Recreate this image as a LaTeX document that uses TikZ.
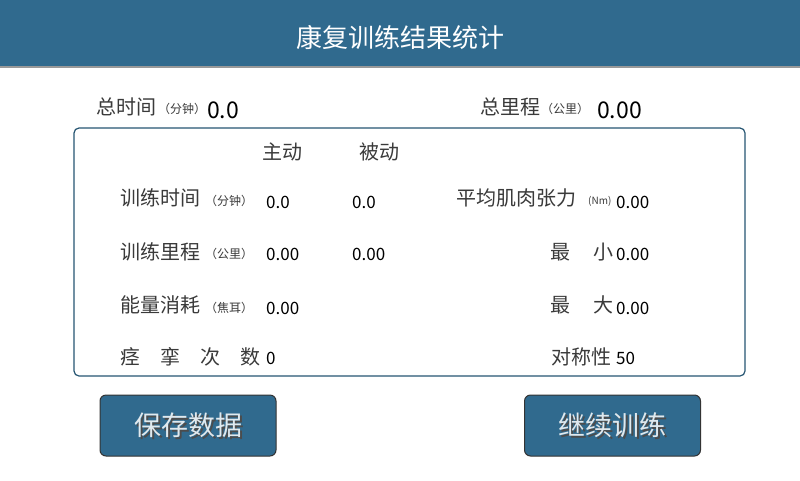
\documentclass[tikz,border=0pt]{standalone}
\usepackage{fontspec}
\setmainfont{Noto Sans CJK SC}
\definecolor{hdr}{HTML}{306A8E}
\definecolor{lbl}{HTML}{3A3A3A}
\begin{document}
\begin{tikzpicture}[x=1pt,y=-1pt,
 lb/.style={anchor=west,text=lbl,font=\fontsize{20}{20}\selectfont,inner sep=0},
 un/.style={anchor=west,text=lbl,font=\fontsize{12}{12}\selectfont,inner sep=0},
 nm/.style={anchor=west,text=black,font=\fontsize{17}{17}\selectfont,inner sep=0},
 btn/.style={draw=black!80,line width=1pt,fill=hdr,rounded corners=6pt,minimum width=176pt,minimum height=61pt},
 bt/.style={text=white!85!hdr,font=\fontsize{27}{27}\selectfont},
 bs/.style={text=black!70,font=\fontsize{27}{27}\selectfont}]
\useasboundingbox (0,0) rectangle (800,480);
\fill[white] (0,0) rectangle (800,480);
\fill[black!40] (0,66) rectangle (800,68);
\node[fill=hdr,minimum width=800pt,minimum height=66pt,anchor=north west,inner sep=0] (hd) at (0,0) {};
\node[text=white,font=\fontsize{26}{26}\selectfont] (title) at (400,37) {康复训练结果统计};
\node[lb] (tt) at (96,107) {总时间};
\node[un] (ttu) at (158,109) {（分钟）};
\node[nm,font=\fontsize{23}{23}\selectfont] (ttv) at (207,110) {0.0};
\node[lb] (td) at (480,107) {总里程};
\node[un] (tdu) at (541,109) {（公里）};
\node[nm,font=\fontsize{23}{23}\selectfont] (tdv) at (597,110) {0.00};
\draw[draw=hdr!80!black,line width=1.2pt,rounded corners=5pt] (74,128) rectangle (745,376);
\node[lb] (zd) at (262,152) {主动};
\node[lb] (bd) at (359,152) {被动};
\node[lb] (l1) at (120,198) {训练时间};
\node[un] (u1) at (205,201) {（分钟）};
\node[nm] (v1) at (266,202) {0.0};
\node[nm] (w1) at (352,202) {0.0};
\node[lb] (l2) at (120,252) {训练里程};
\node[un] (u2) at (205,254) {（公里）};
\node[nm] (v2) at (266,254) {0.00};
\node[nm] (w2) at (352,254) {0.00};
\node[lb] (l3) at (120,305) {能量消耗};
\node[un] (u3) at (205,308) {（焦耳）};
\node[nm] (v3) at (266,308) {0.00};
\node[lb] (l4) at (120,357) {痉\hspace{20pt}挛\hspace{20pt}次\hspace{20pt}数};
\node[nm] (v4) at (266,358) {0};
\node[lb] (r1) at (456,198) {平均肌肉张力};
\node[un,font=\fontsize{10}{10}\selectfont] (ru1) at (588,201) {(Nm)};
\node[nm] (rv1) at (616,202) {0.00};
\node[lb] (r2) at (550,252) {最\hspace{23pt}小};
\node[nm] (rv2) at (616,254) {0.00};
\node[lb] (r3) at (550,305) {最\hspace{23pt}大};
\node[nm] (rv3) at (616,308) {0.00};
\node[lb] (r4) at (551,357) {对称性};
\node[nm] (rv4) at (616,358) {50};
\node[btn] (b1) at (188,425.5) {};
\node[bs] (b1s) at (190,427.5) {保存数据};
\node[bt] (b1t) at (188,425.5) {保存数据};
\node[btn] (b2) at (612.5,425.5) {};
\node[bs] (b2s) at (614.5,427.5) {继续训练};
\node[bt] (b2t) at (612.5,425.5) {继续训练};
\end{tikzpicture}
\end{document}
